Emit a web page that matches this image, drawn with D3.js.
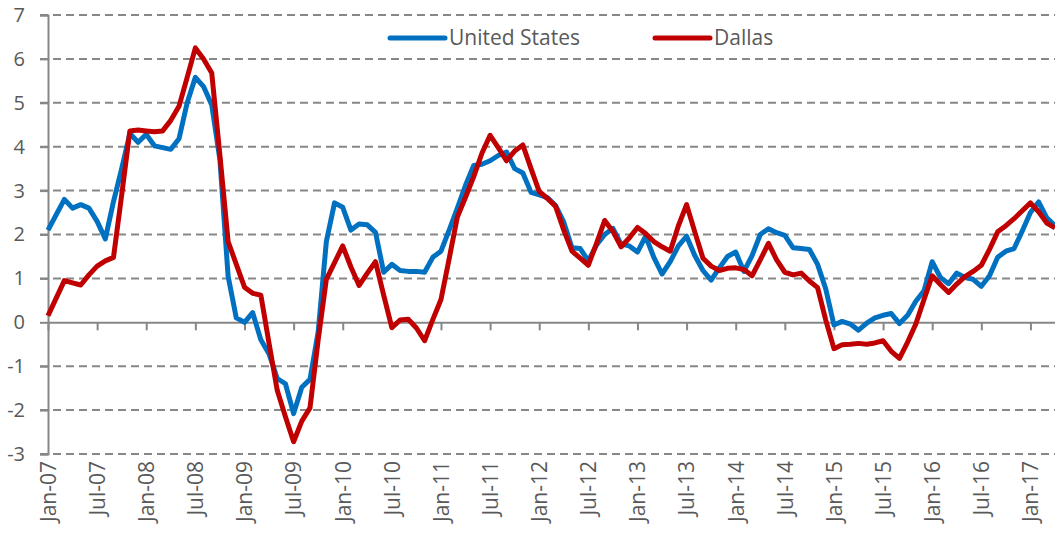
<!DOCTYPE html>
<html>
<head>
<meta charset="utf-8">
<script src="https://cdn.jsdelivr.net/npm/d3@7"></script>
<style>
  body { margin: 0; background: #fff; }
  #chart text { font-family: "Open Sans", sans-serif; fill: #595959; }
</style>
</head>
<body>
<div id="chart"></div>
<script>
// monthly, Jan-07 .. Apr-17
var monthNames = ["Jan", "Feb", "Mar", "Apr", "May", "Jun", "Jul", "Aug", "Sep", "Oct", "Nov", "Dec"];
var months = [];
for (var yr = 7; yr <= 17; yr++) {
    for (var m = 0; m < 12; m++) {
        if (yr === 17 && m > 3) break;
        months.push(monthNames[m] + "-" + (yr < 10 ? "0" + yr : yr));
    }
}

var unitedStates = [
    2.1, 2.45, 2.8, 2.6, 2.68, 2.6, 2.3, 1.9, 2.75, 3.5, 4.3, 4.1,
    4.28, 4.02, 3.98, 3.94, 4.18, 5.0, 5.58, 5.37, 4.95, 3.7, 1.05, 0.1,
    0.0, 0.22, -0.4, -0.72, -1.28, -1.4, -2.08, -1.48, -1.3, -0.22, 1.84, 2.72,
    2.62, 2.1, 2.24, 2.22, 2.05, 1.14, 1.32, 1.18, 1.16, 1.16, 1.14, 1.48,
    1.62, 2.1, 2.6, 3.12, 3.57, 3.6, 3.68, 3.8, 3.88, 3.5, 3.4, 2.96,
    2.9, 2.84, 2.66, 2.28, 1.7, 1.68, 1.4, 1.76, 2.0, 2.14, 1.78, 1.74,
    1.6, 1.96, 1.48, 1.1, 1.38, 1.74, 1.96, 1.52, 1.18, 0.96, 1.24, 1.5,
    1.6, 1.16, 1.52, 2.0, 2.13, 2.04, 1.98, 1.7, 1.68, 1.66, 1.32, 0.76,
    -0.06, 0.02, -0.04, -0.18, -0.02, 0.1, 0.16, 0.2, -0.03, 0.16, 0.48, 0.72,
    1.38, 1.02, 0.88, 1.12, 1.02, 0.98, 0.82, 1.06, 1.48, 1.62, 1.68, 2.08,
    2.5, 2.74, 2.38, 2.2
];

var dallas = [
    0.15, 0.55, 0.95, 0.9, 0.85, 1.08, 1.28, 1.4, 1.48, 2.9, 4.36, 4.38,
    4.36, 4.34, 4.36, 4.6, 4.92, 5.58, 6.25, 6.0, 5.68, 3.8, 1.84, 1.32,
    0.8, 0.66, 0.62, -0.48, -1.55, -2.15, -2.72, -2.25, -1.95, -0.4, 0.98, 1.36,
    1.74, 1.26, 0.84, 1.12, 1.38, 0.62, -0.12, 0.05, 0.07, -0.13, -0.42, 0.06,
    0.52, 1.45, 2.4, 2.85, 3.32, 3.85, 4.26, 3.98, 3.68, 3.9, 4.04, 3.5,
    2.98, 2.82, 2.64, 2.1, 1.62, 1.46, 1.3, 1.8, 2.32, 2.07, 1.72, 1.92,
    2.16, 2.02, 1.84, 1.72, 1.62, 2.2, 2.68, 2.06, 1.46, 1.28, 1.18, 1.23,
    1.24, 1.2, 1.06, 1.42, 1.8, 1.42, 1.14, 1.08, 1.12, 0.94, 0.79, 0.05,
    -0.6, -0.51, -0.5, -0.48, -0.5, -0.47, -0.42, -0.66, -0.82, -0.45, -0.04, 0.52,
    1.06, 0.86, 0.68, 0.87, 1.04, 1.16, 1.3, 1.66, 2.06, 2.2, 2.36, 2.54,
    2.72, 2.52, 2.26, 2.15
];

var yTicks = [-3, -2, -1, 0, 1, 2, 3, 4, 5, 6, 7];

var series = [
    { name: "United States", values: unitedStates, color: "#0070C0" },
    { name: "Dallas", values: dallas, color: "#C00000" }
];

var width = 1055, height = 536;
var margin = { top: 15, right: 0, bottom: 82, left: 48 };

var svg = d3.select("#chart")
  .append("svg")
    .attr("width", width)
    .attr("height", height);

var x = d3.scalePoint()
    .domain(months)
    .range([margin.left, width - margin.right]);

var y = d3.scaleLinear()
    .domain([-3, 7])
    .range([height - margin.bottom, margin.top]);

var labelMonths = months.filter(function(d, i) { return i % 6 === 0; });

// dashed gridlines
svg.append("g")
    .selectAll("line")
    .data(yTicks.filter(function(d) { return d !== 0; }))
    .enter()
    .append("line")
        .attr("x1", margin.left - 8)
        .attr("x2", width)
        .attr("y1", function(d) { return y(d); })
        .attr("y2", function(d) { return y(d); })
        .attr("stroke", "#878787")
        .attr("stroke-width", 2)
        .attr("stroke-dasharray", "8,5");

// y axis
var yAxis = svg.append("g")
    .attr("transform", "translate(" + margin.left + ",0)")
    .call(d3.axisLeft(y).tickValues(yTicks).tickSize(8).tickFormat(function(d) { return String(d); }));
yAxis.select(".domain").attr("stroke", "#878787").attr("stroke-width", 2);
yAxis.selectAll(".tick line").attr("stroke", "#878787").attr("stroke-width", 2);
yAxis.selectAll("text")
    .attr("x", -23)
    .style("font-size", "20px");

// zero line with ticks
var xAxis = svg.append("g")
    .attr("transform", "translate(0," + y(0) + ")")
    .call(d3.axisBottom(x).tickValues(labelMonths).tickSize(8).tickSizeOuter(0).tickFormat(""));
xAxis.select(".domain").attr("stroke", "#878787").attr("stroke-width", 2);
xAxis.selectAll(".tick line").attr("stroke", "#878787").attr("stroke-width", 2);

// rotated labels below the plot
var xLabels = svg.append("g")
    .attr("transform", "translate(0," + (y(-3) + 7) + ")")
    .call(d3.axisBottom(x).tickValues(labelMonths).tickSize(0));
xLabels.select(".domain").remove();
xLabels.selectAll("text")
    .attr("transform", "rotate(-90)")
    .attr("x", 0)
    .attr("y", 0)
    .attr("dy", "0.35em")
    .style("text-anchor", "end")
    .style("font-size", "21px");

// lines
var line = d3.line()
    .x(function(d, i) { return x(months[i]); })
    .y(function(d) { return y(d); });

svg.append("g")
    .selectAll("path")
    .data(series)
    .enter()
    .append("path")
        .attr("d", function(s) { return line(s.values); })
        .attr("fill", "none")
        .attr("stroke", function(s) { return s.color; })
        .attr("stroke-width", 5)
        .attr("stroke-linejoin", "round");

// legend
var legendX = [390, 655];
var legend = svg.append("g")
    .selectAll("g")
    .data(series)
    .enter()
    .append("g")
        .attr("transform", function(s, i) { return "translate(" + legendX[i] + ",38)"; });

legend.append("line")
    .attr("x1", 0)
    .attr("x2", 55)
    .attr("stroke", function(s) { return s.color; })
    .attr("stroke-width", 5)
    .attr("stroke-linecap", "round");

legend.append("text")
    .attr("x", 59)
    .attr("dy", "0.35em")
    .style("font-size", "21px")
    .text(function(s) { return s.name; });
</script>
</body>
</html>
